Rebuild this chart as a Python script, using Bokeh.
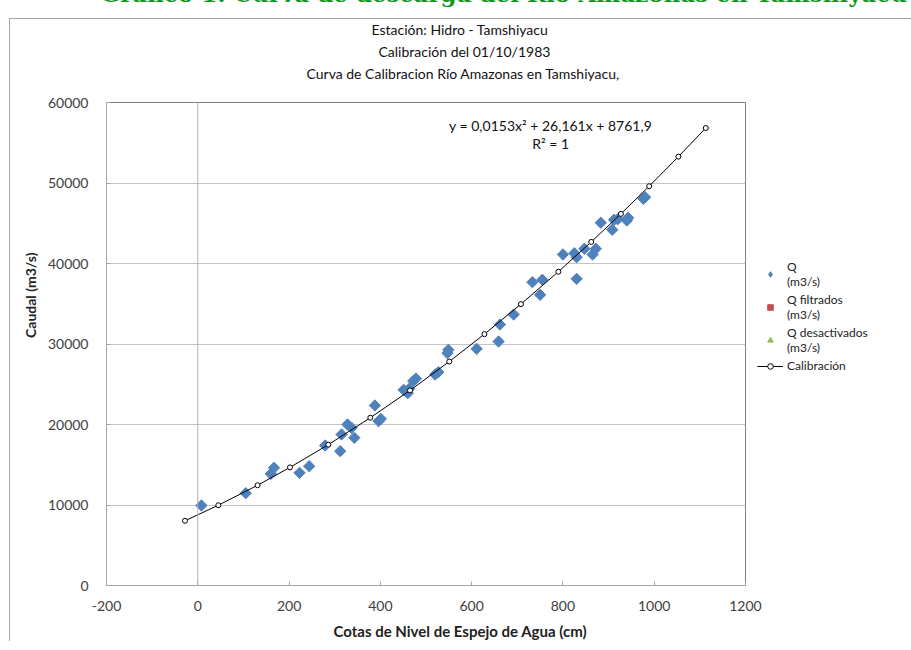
import math
from bokeh.plotting import figure
from bokeh.models import (Range1d, Label, Legend, LegendItem, Span, FixedTicker, Title,
                          InlineStyleSheet)
from bokeh.embed import file_html
from bokeh.resources import INLINE

# ---- data ----
q_x = [8, 105, 160, 167, 223, 244, 279, 312, 315, 328, 337, 343, 388, 396, 401,
       451, 460, 463, 472, 478, 520, 527, 547, 549, 611, 659, 662, 692, 733, 750,
       755, 800, 825, 830, 830, 847, 865, 872, 883, 908, 912, 920, 940, 943, 976, 980]
q_y = [9940, 11470, 13870, 14620, 14000, 14820, 17390, 16690, 18760, 20000, 19590,
       18350, 22360, 20410, 20700, 24310, 23890, 24430, 25400, 25700, 26210, 26500,
       28860, 29280, 29400, 30310, 32420, 33660, 37680, 36110, 37980, 41120, 41280,
       40780, 38100, 41830, 41120, 41830, 45060, 44190, 45430, 45500, 45340, 45680,
       48040, 48240]
# these two series have no valid values in the chart
filt_x, filt_y = [float("nan")], [float("nan")]
desact_x, desact_y = [float("nan")], [float("nan")]
cal_x = [-28, 45, 131, 202, 286, 378, 465, 551, 628, 708, 790, 862, 927, 989, 1053, 1113]
cal_y = [8040, 9970, 12452, 14671, 17495, 20837, 24235, 27822, 31225, 34953, 38978,
         42681, 46161, 49600, 53274, 56832]
x_ticks = [-200, 0, 200, 400, 600, 800, 1000, 1200]
x_tick_labels = ["-200", "0", "200", "400", "600", "800", "1000", "1200"]
y_ticks = [0, 10000, 20000, 30000, 40000, 50000, 60000]
y_tick_labels = ["0", "10000", "20000", "30000", "40000", "50000", "60000"]
title_lines = ["Estación: Hidro - Tamshiyacu", "Calibración del 01/10/1983",
               "Curva de Calibracion Río Amazonas en Tamshiyacu,"]
doc_title = "Gráfico 1:  Curva de descarga del Río Amazonas en Tamshiyacu"
equation = "y = 0,0153x² + 26,161x + 8761,9"
r2_text = "R² = 1"
x_label = "Cotas de Nivel de Espejo de Agua (cm)"
y_label = "Caudal (m3/s)"

FONT = "Lato"

p = figure(frame_width=639, frame_height=483, min_border_left=106, min_border_top=102,
           min_border_bottom=57, min_border_right=158,
           x_range=Range1d(-200, 1200), y_range=Range1d(0, 60000),
           output_backend="svg", toolbar_location=None)
p.title = None
p.background_fill_color = "white"
p.border_fill_color = "white"
p.outline_line_color = "#7F7F7F"
p.outline_line_width = 1
# outer chart-area border (left and top edges)
p.stylesheets = [InlineStyleSheet(css=(
    ":host { position: relative; }"
    ":host::after { content: ''; position: absolute; left: 9px; top: 18px; right: 0px;"
    " bottom: 4px; border-left: 1px solid #A6A6A6; border-top: 1px solid #A6A6A6;"
    " pointer-events: none; z-index: 5; }"))]

p.xgrid.visible = False
p.ygrid.ticker = FixedTicker(ticks=y_ticks)
p.ygrid.grid_line_color = "#C4C4C4"

p.xaxis.ticker = FixedTicker(ticks=x_ticks)
p.yaxis.ticker = FixedTicker(ticks=y_ticks)
p.xaxis.major_label_overrides = dict(zip(x_ticks, x_tick_labels))
p.yaxis.major_label_overrides = dict(zip(y_ticks, y_tick_labels))
for ax in (p.xaxis, p.yaxis):
    ax.axis_line_color = "#A6A6A6"
    ax.major_tick_line_color = "#A6A6A6"
    ax.major_tick_in = 4
    ax.major_tick_out = 0
    ax.minor_tick_line_color = None
    ax.major_label_text_font = FONT
    ax.major_label_text_font_size = "14px"
    ax.major_label_text_color = "#404040"
p.xaxis.major_label_standoff = 15
p.yaxis.major_label_standoff = 18

p.add_layout(Span(location=0, dimension="height", line_color="#B0B0B0", line_width=1))

r_q = p.scatter(q_x, q_y, marker="square", angle=math.pi / 4, size=8,
                fill_color="#4F81BD", line_color="#4F81BD")
r_q_key = p.scatter([float("nan")], [float("nan")], marker="diamond", size=11,
                    fill_color="#4F81BD", line_color="#4F81BD")
r_f = p.scatter(filt_x, filt_y, marker="square", size=8,
                fill_color="#C0504D", line_color="#C0504D")
r_d = p.scatter(desact_x, desact_y, marker="triangle", size=9,
                fill_color="#9BBB59", line_color="#9BBB59")
r_line = p.line(cal_x, cal_y, line_color="black", line_width=1)
r_c = p.scatter(cal_x, cal_y, marker="circle", size=5, fill_color="white",
                line_color="black", line_width=1)

legend = Legend(items=[
    LegendItem(label="Q\n(m3/s)", renderers=[r_q_key]),
    LegendItem(label="Q filtrados\n(m3/s)", renderers=[r_f]),
    LegendItem(label="Q desactivados\n(m3/s)", renderers=[r_d]),
    LegendItem(label="Calibración", renderers=[r_line, r_c]),
], location=(12, 212))
legend.label_text_font = FONT
legend.label_text_font_size = "12px"
legend.label_text_color = "#222222"
legend.border_line_color = None
legend.background_fill_alpha = 0
legend.padding = 0
legend.margin = 0
legend.spacing = 3
legend.glyph_width = 26
legend.glyph_height = 14
legend.label_standoff = 4
legend.label_height = 14
p.add_layout(legend, "right")

# chart titles, nearest to the plot first (blank spacers keep the gaps)
p.add_layout(Title(text=" ", standoff=0, text_font=FONT, text_font_size="14.3px"), "above")
offsets = [200, 272, 265]
for txt, off in zip(reversed(title_lines), offsets):
    p.add_layout(Title(text=txt, align="left", offset=off, standoff=3,
                       text_font=FONT, text_font_style="normal",
                       text_font_size="14px", text_color="#111111"), "above")
p.add_layout(Title(text=" ", standoff=0, text_font=FONT, text_font_size="10.4px"), "above")
p.add_layout(Title(text=doc_title, align="left", offset=-6, standoff=-48,
                   vertical_align="top",
                   text_font="DejaVu Serif", text_font_style="bold",
                   text_font_size="23px", text_color="#12961E"), "above")

# axis titles
p.add_layout(Title(text=x_label, align="left", offset=227, standoff=12,
                   text_font=FONT, text_font_style="bold", text_font_size="15px",
                   text_color="#222222"), "below")
p.add_layout(Title(text=y_label, align="right", offset=150, standoff=12,
                   text_font=FONT, text_font_style="bold", text_font_size="14px",
                   text_color="#222222"), "left")

p.add_layout(Label(x=773, y=57143, text=equation, text_align="center", text_baseline="middle",
                   text_font=FONT, text_font_size="14px", text_color="#111111"))
p.add_layout(Label(x=773, y=54907, text=r2_text, text_align="center", text_baseline="middle",
                   text_font=FONT, text_font_size="14px", text_color="#111111"))

open("out.html", "w").write(file_html(p, INLINE))
